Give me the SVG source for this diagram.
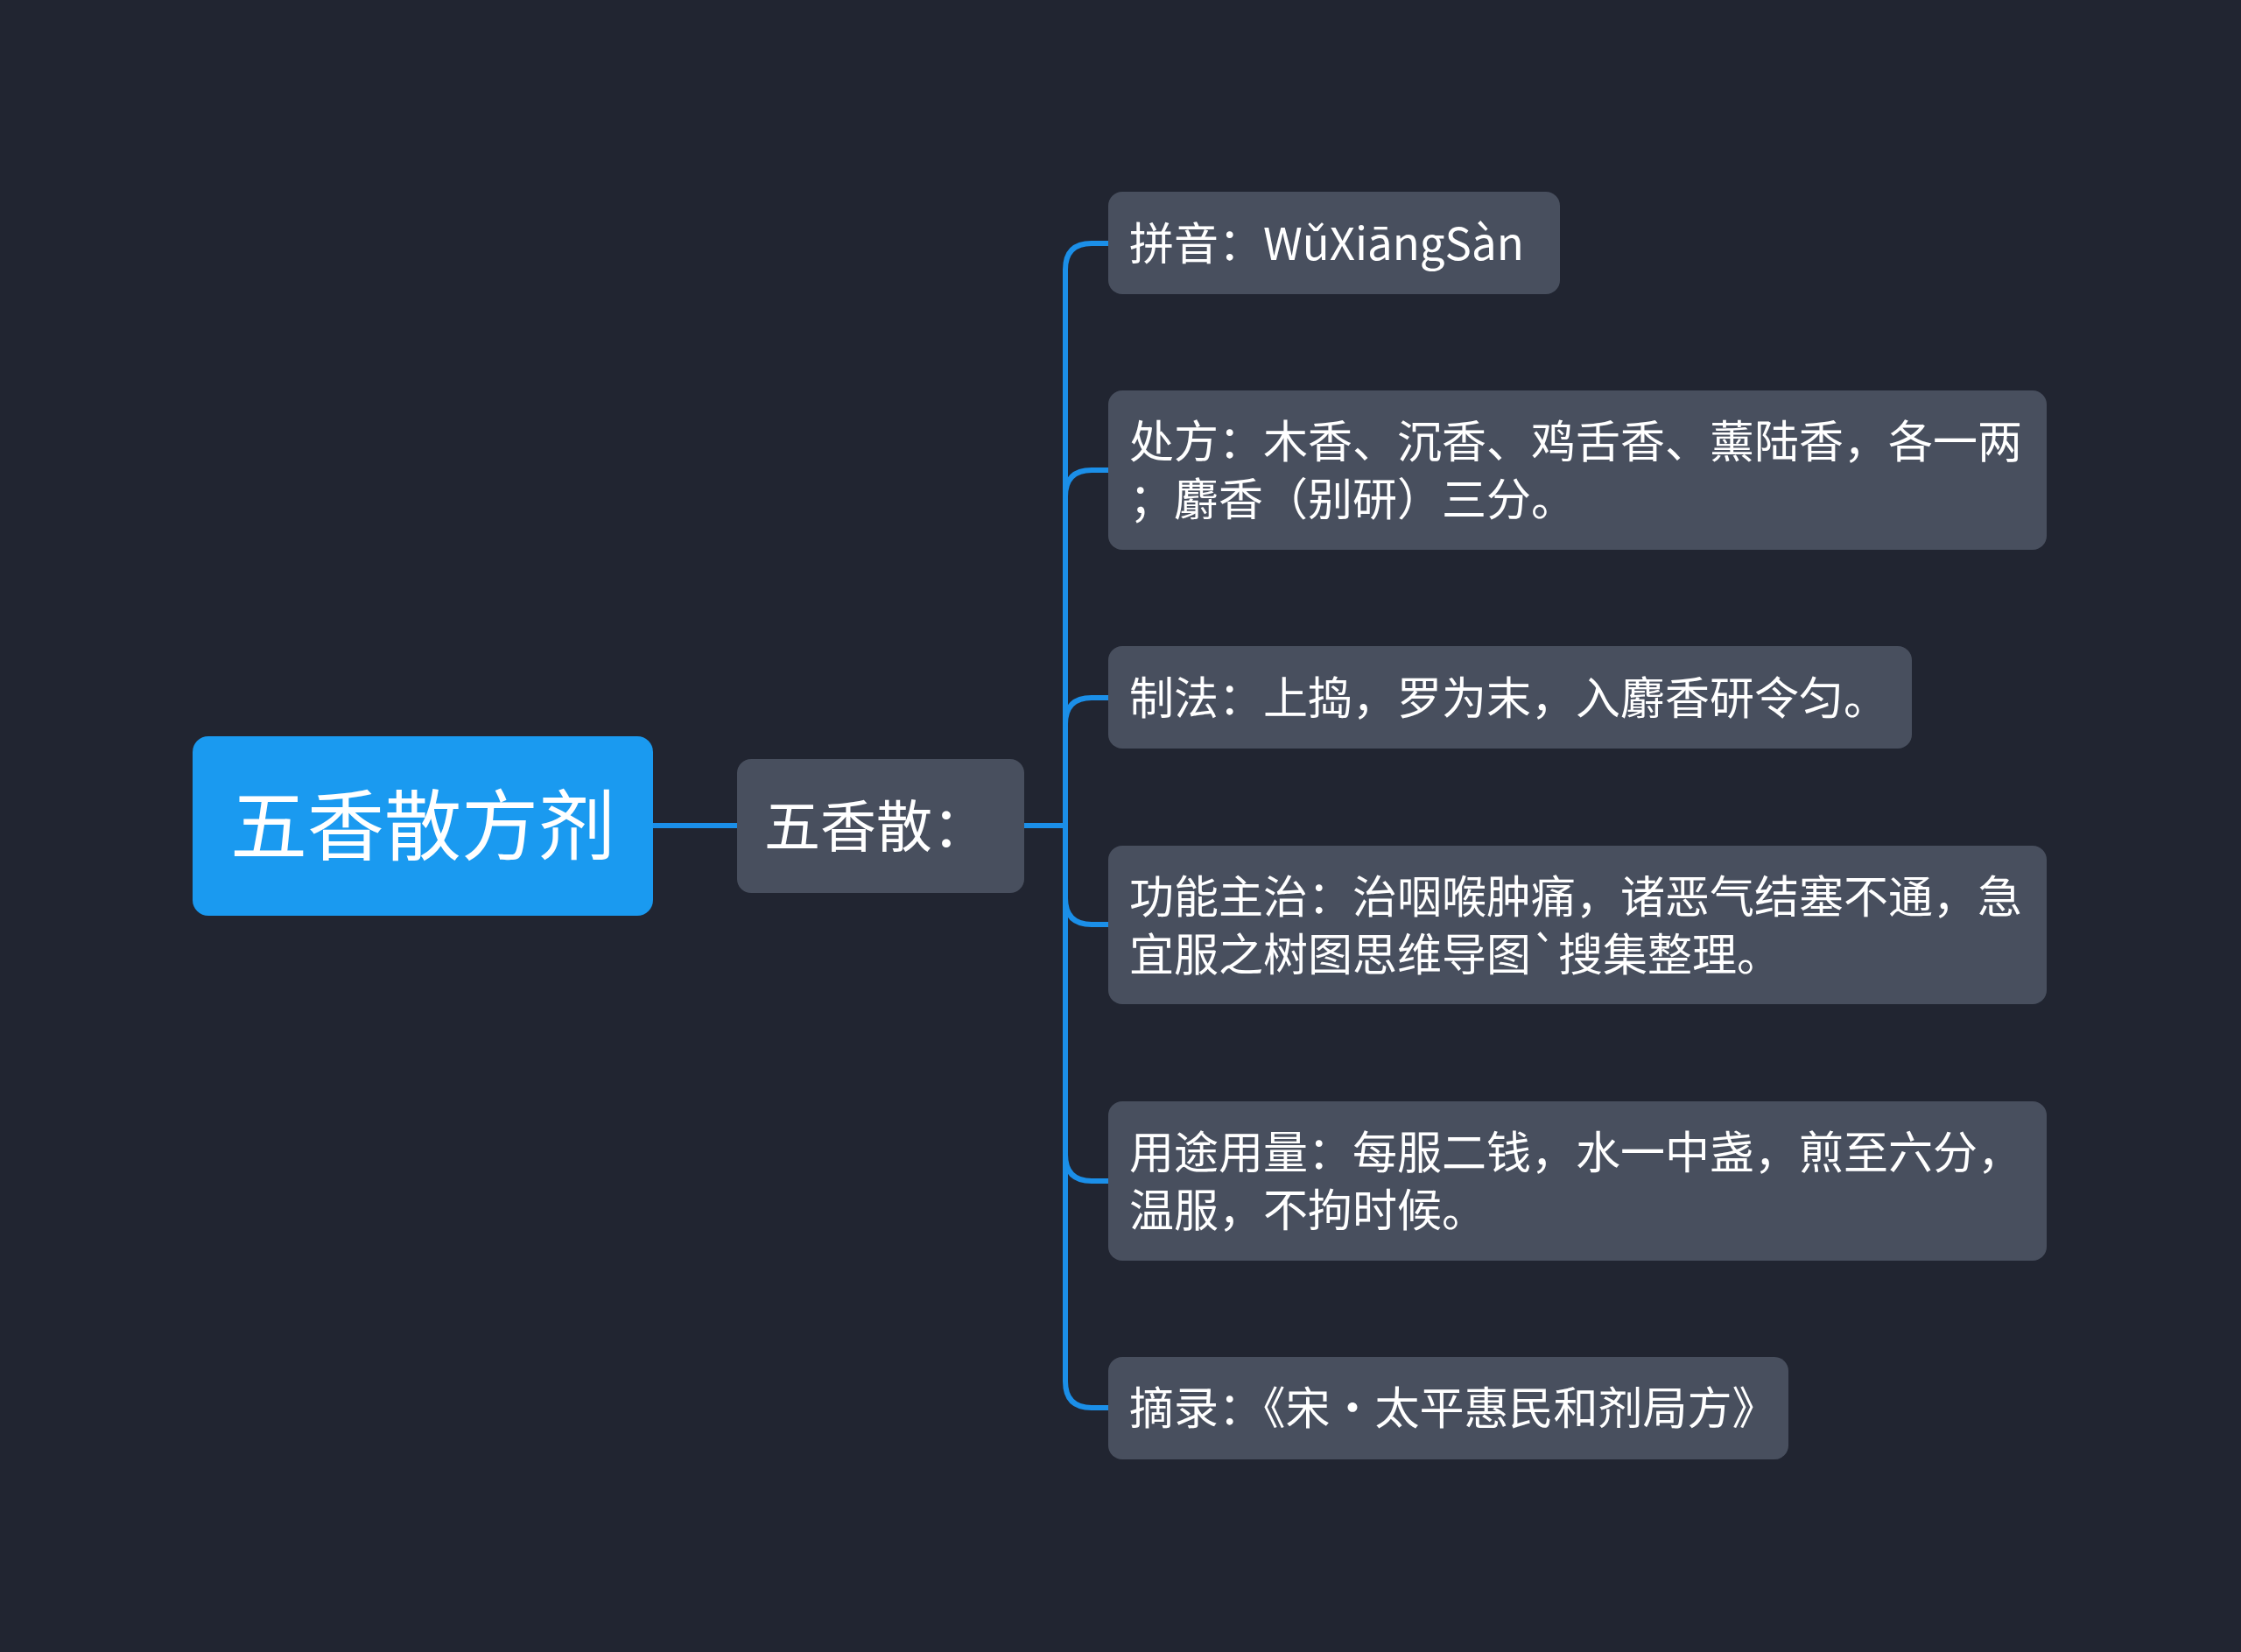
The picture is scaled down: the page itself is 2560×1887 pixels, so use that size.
<svg xmlns="http://www.w3.org/2000/svg" width="2560" height="1887" viewBox="0 0 2560 1887">
<style>
.bg{fill:#212531}
.node{fill:#484f5e}
.root{fill:#1a9af0}
.t{font-family:"Noto Sans CJK SC","Noto Sans",sans-serif;fill:#ffffff}
.ct{font-size:51px}
.conn{fill:none;stroke:#1b8fe8;stroke-width:6;stroke-linecap:round;stroke-linejoin:round}
</style>
<rect class="bg" x="0" y="0" width="2560" height="1887"/>
<g id="connectors">
<path class="conn" d="M746 943 L842 943"/>
<path class="conn" d="M1170 943 L1217 943"/>
<path class="conn" d="M1266 278 L1247 278 Q1217 278 1217 308 L1217 1578 Q1217 1608 1247 1608 L1266 1608"/>
<path class="conn" d="M1266 537 L1247 537 Q1217 537 1217 567"/>
<path class="conn" d="M1266 797 L1247 797 Q1217 797 1217 827"/>
<path class="conn" d="M1266 1056 L1247 1056 Q1217 1056 1217 1026"/>
<path class="conn" d="M1266 1349 L1247 1349 Q1217 1349 1217 1319"/>
</g>
<g id="root">
<rect class="root" x="220" y="841" width="526" height="205" rx="18"/>
<text class="t" x="483" y="975" font-size="88" text-anchor="middle">五香散方剂</text>
</g>
<g id="mid">
<rect class="node" x="842" y="867" width="328" height="153" rx="16"/>
<text class="t" x="873" y="967" font-size="64">五香散：</text>
</g>
<g id="n1">
<rect class="node" x="1266" y="219" width="516" height="117" rx="16"/>
<text class="t ct" x="1290" y="297">拼音：WǔXiāngSàn</text>
</g>
<g id="n2">
<rect class="node" x="1266" y="446" width="1072" height="182" rx="16"/>
<text class="t ct"><tspan x="1290" y="523">处方：木香、沉香、鸡舌香、薰陆香，各一两</tspan><tspan x="1290" y="589">；麝香（别研）三分。</tspan></text>
</g>
<g id="n3">
<rect class="node" x="1266" y="738" width="918" height="117" rx="16"/>
<text class="t ct" x="1290" y="816">制法：上捣，罗为末，入麝香研令匀。</text>
</g>
<g id="n4">
<rect class="node" x="1266" y="966" width="1072" height="181" rx="16"/>
<text class="t ct"><tspan x="1290" y="1043">功能主治：治咽喉肿痛，诸恶气结塞不通，急</tspan><tspan x="1290" y="1109">宜服之树图思维导图`搜集整理。</tspan></text>
</g>
<g id="n5">
<rect class="node" x="1266" y="1258" width="1072" height="182" rx="16"/>
<text class="t ct"><tspan x="1290" y="1335">用途用量：每服二钱，水一中盏，煎至六分，</tspan><tspan x="1290" y="1401">温服，不拘时候。</tspan></text>
</g>
<g id="n6">
<rect class="node" x="1266" y="1550" width="777" height="117" rx="16"/>
<text class="t ct" x="1290" y="1627">摘录：《宋·太平惠民和剂局方》</text>
</g>
</svg>
